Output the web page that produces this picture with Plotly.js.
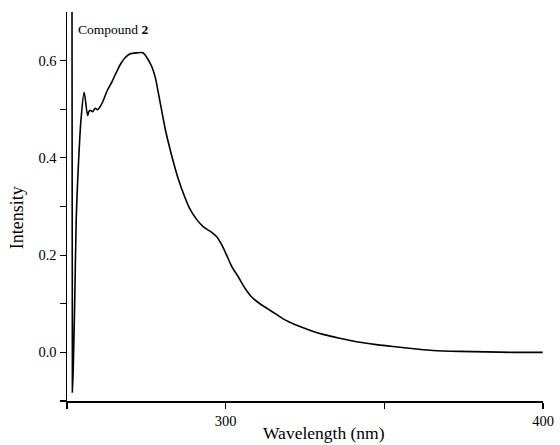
<!DOCTYPE html>
<html>
<head>
<meta charset="utf-8">
<script src="https://cdn.plot.ly/plotly-3.0.1.min.js"></script>
<style>html,body{margin:0;padding:0;background:#fff;}#chart{width:560px;height:445px;}</style>
</head>
<body>
<div id="chart"></div>
<script>
const wavelength = [251.5, 251.7, 252.4, 252.9, 253.6, 254.4, 255.4, 256.5, 256.9, 257.3, 258.1, 258.9, 259.6, 260.5, 261.3, 262.6, 264.2, 265.7, 266.8, 268.3, 269.9, 272.0, 273.9, 275.2, 276.7, 277.8, 278.8, 279.9, 280.9, 282.0, 283.5, 285.1, 287.2, 288.8, 290.9, 293.0, 295.6, 297.2, 298.7, 300.3, 301.9, 304.0, 306.1, 308.2, 310.8, 313.4, 316.0, 318.1, 320.2, 323.4, 327.6, 330.7, 335.9, 341.2, 347.5, 352.7, 360.1, 365.3, 373.7, 382.1, 390.4, 399.9];
const intensity = [1.2, -0.082, 0.093, 0.272, 0.386, 0.478, 0.535, 0.487, 0.495, 0.498, 0.495, 0.502, 0.499, 0.506, 0.516, 0.537, 0.557, 0.578, 0.592, 0.606, 0.614, 0.616, 0.616, 0.606, 0.588, 0.566, 0.533, 0.495, 0.461, 0.430, 0.392, 0.356, 0.318, 0.294, 0.273, 0.258, 0.247, 0.238, 0.222, 0.200, 0.177, 0.155, 0.132, 0.114, 0.100, 0.089, 0.078, 0.069, 0.062, 0.053, 0.043, 0.037, 0.029, 0.022, 0.016, 0.012, 0.007, 0.004, 0.002, 0.001, 0.000, 0.000];
const xTickVals = [250, 300, 350, 400];
const xTickText = ['', '300', '', '400'];
const yTickVals = [-0.1, 0.0, 0.1, 0.2, 0.3, 0.4, 0.5, 0.6];
const yTickText = ['', '0.0', '', '0.2', '', '0.4', '', '0.6'];
const seriesName = 'Compound <b>2</b>';
const xTitle = 'Wavelength (nm)';
const yTitle = 'Intensity';

const font = "'Liberation Serif', 'Times New Roman', serif";
const trace = {
  x: wavelength, y: intensity, type: 'scatter', mode: 'lines',
  line: {color: '#000', width: 1.6, shape: 'spline', smoothing: 0.8}, name: seriesName, showlegend: false
};
const layout = {
  width: 560, height: 445,
  margin: {l: 67, r: 17, t: 12, b: 44},
  paper_bgcolor: '#fff', plot_bgcolor: '#fff',
  font: {family: font, color: '#000', size: 14},
  xaxis: {
    range: [250, 400], showgrid: false, zeroline: false,
    showline: true, linecolor: '#000', linewidth: 1.5,
    ticks: 'outside', ticklen: 6, tickwidth: 1.2, tickcolor: '#000',
    tickmode: 'array', tickvals: xTickVals, ticktext: xTickText,
    tickfont: {family: font, size: 14.5}
  },
  yaxis: {
    range: [-0.1, 0.7], showgrid: false, zeroline: false,
    showline: true, linecolor: '#000', linewidth: 1.5,
    ticks: 'outside', ticklen: 6, tickwidth: 1.2, tickcolor: '#000',
    tickmode: 'array', tickvals: yTickVals, ticktext: yTickText,
    tickfont: {family: font, size: 14.5}
  },
  annotations: [{
    text: seriesName, xref: 'paper', yref: 'paper', x: 0.018, y: 0.955,
    xanchor: 'left', yanchor: 'middle', showarrow: false,
    font: {family: font, size: 13.5, color: '#000'}
  }, {
    text: xTitle, xref: 'paper', yref: 'paper', x: 0.54, y: 0, yshift: -32,
    xanchor: 'center', yanchor: 'middle', showarrow: false,
    font: {family: font, size: 17.5, color: '#000'}
  }, {
    text: yTitle, xref: 'paper', yref: 'paper', x: 0, xshift: -50, y: 0.47,
    xanchor: 'center', yanchor: 'middle', textangle: -90, showarrow: false,
    font: {family: font, size: 18, color: '#000'}
  }]
};
Plotly.newPlot('chart', [trace], layout, {displayModeBar: false, staticPlot: true});
</script>
</body>
</html>
